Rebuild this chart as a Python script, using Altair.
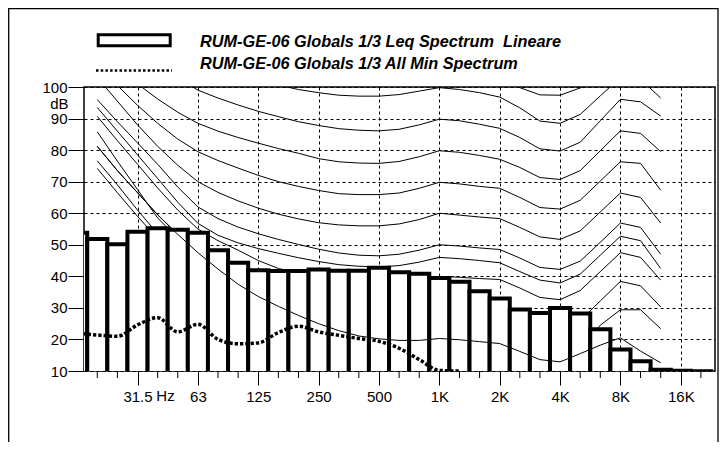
import altair as alt
import pandas as pd

# ---------------- data ----------------
# 1/3-octave band index: 1 kHz = 0 (16 Hz = -18 ... 20 kHz = 13)
band_idx = list(range(-18, 14))
band_label = ["16", "20", "25", "31.5", "40", "50", "63", "80", "100", "125", "160",
              "200", "250", "315", "400", "500", "630", "800", "1K", "1.25K", "1.6K",
              "2K", "2.5K", "3.15K", "4K", "5K", "6.3K", "8K", "10K", "12.5K", "16K", "20K"]
leq = [53.8, 51.8, 50.2, 54.1, 55.2, 54.8, 53.8, 48.3, 44.3, 41.9, 41.7,
       41.7, 42.2, 41.8, 41.8, 42.7, 41.3, 40.8, 39.5, 38.3, 35.3,
       33.0, 29.5, 28.4, 30.0, 28.2, 23.2, 16.8, 13.1, 10.4, 10.1, 9.9]

min_idx = list(range(-18, 2))
min_spec = [22.0, 21.4, 21.0, 24.6, 26.9, 22.4, 24.8, 20.0, 18.6, 18.9,
            22.2, 24.2, 22.4, 21.3, 20.3, 19.4, 17.2, 13.6, 10.2, 10.0]

# reference contours, 20 Hz (-17) ... 12.5 kHz (11)
contour_idx = list(range(-17, 12))
N = None
c110 = [N]*13 + [106.5, 106.8, 107.5, 108.6, 110, 109.2, 107.6, 104.5, 99.8, 97.5, 97.4, 99.7, 103, 108, N, N]
c100 = [N]*7 + [106, 103, 100.6, 99.2, 98.2, 97.4, 97.1, 97.1, 97.6, 98.7, 99.8, 99.2, 98.2, 96.8,
                93.4, 89.2, 88.5, 91.3, 97.2, 103, 102.5, 96.5]
c90 = [N]*4 + [103, 99, 96.5, 94.3, 92.3, 90.6, 89, 87.8, 86.8, 86.3, 86.1, 86.6, 88, 89.8, 89.3,
               88.2, 86.9, 84, 80.4, 79.7, 82.5, 89.3, 96.1, 95.3, 90.8]
c80 = [N]*2 + [101, 96.2, 92, 88.5, 86, 84, 82.2, 80.5, 79, 77.3, 76.3, 75.9, 75.8, 76.4, 77.9, 79.8,
               79.3, 78.3, 77.1, 74.5, 71.3, 70.7, 73.5, 79.8, 86.1, 85.3, 79.5]
c70 = [108, 100.5, 94.2, 88.5, 83.5, 79.5, 76.7, 74.3, 72, 70, 68.5, 67.2, 66.2, 65.9, 65.9, 66.4,
       67.9, 69.8, 69.3, 68.5, 67.9, 65, 61.8, 61.3, 64.1, 70.2, 76.3, 75.8, 67.3]
c60 = [103, 95.5, 88, 81.2, 75.2, 70, 66.6, 63.9, 61.6, 59.7, 58.2, 57, 56.3, 56, 56, 56.6, 58, 60,
       59.4, 58.8, 58.3, 55.5, 52.5, 51.7, 54.4, 60.4, 66.4, 65, 56.9]
c50 = [96, 89, 82.3, 75.5, 68.3, 62, 58.3, 55.6, 53.5, 51.7, 50.1, 48.6, 47.4, 46.7, 46.5, 47, 48.3,
       50, 49.6, 49, 48.5, 45.8, 42.8, 42.2, 44.8, 50.8, 56.9, 55.5, 47]
c46 = [93.5, 86, 78.5, 71, 63.5, 56.8, 53, 50.6, 48.8, 47.3, 45.9, 44.7, 43.7, 43.2, 43, 43.4, 44.5,
       46, 45.6, 45, 44.3, 41.5, 38.8, 37.9, 40.7, 46.7, 52.7, 51.3, 42.5]
c40 = [90.7, 83, 75.5, 68, 61, 55, 51.3, 48.3, 45, 42.5, 41, 39.8, 38.8, 38.2, 38, 38.3, 39, 40,
       39.7, 39.3, 39, 36.3, 33.3, 32.6, 35.5, 41.5, 47.5, 46, 38.8]
c30 = [85.8, 76.5, 67.5, 58.5, 52, 47, 43, 39.5, 36.5, 34, 32.3, 31, 30, 29.3, 29, 29.2, 29.6, 30,
       29.6, 29.3, 29, 26.3, 23.5, 22.8, 26, 32.2, 38.4, 37, 30.3]
c20 = [81.2, 73.5, 66.5, 59.5, 53.3, 47.5, 42.3, 37.5, 33.6, 30.5, 27.6, 25, 22.8, 21.1, 20.2, 19.7,
       19.7, 20.3, 19.9, 19.4, 19, 16.5, 14.2, 14, 17, 24.5, 29.4, 29.4, 23.4]
c10 = [76.6, 69, 61, 53.5, 48, 43] + [N]*23
c0 = [74.2, 66.5, 59, 52, 46, 41] + [N]*23
top_curve = [81.2, 73.5, 66.5, 59.5, 53.3, 47.5, 42.3, 37.5, 33.6, 30.5, 27.6, 25, 22.8, 21.1, 20.2,
             19.7, 19.7, 20.3, 19.9, 19.3, 18.7, 16.2, 13.6, 12.9, 15.5, 18.2, 20.5, 16.3, 12.6]

contours = {"110": c110, "100": c100, "90": c90, "80": c80, "70": c70, "60": c60, "50": c50,
            "46": c46, "40": c40, "30": c30, "20": c20, "10": c10, "0": c0}

major_idx = [-15, -12, -9, -6, -3, 0, 3, 6, 9, 12]
major_lab = ["31.5", "63", "125", "250", "500", "1K", "2K", "4K", "8K", "16K"]
minor_idx = [i for i in range(-17, 14) if i not in major_idx]
unit_label = "Hz"
y_ticks = list(range(10, 101, 10))

legend_1 = "RUM-GE-06 Globals 1/3 Leq Spectrum\u00a0\u00a0Lineare"
legend_2 = "RUM-GE-06 Globals 1/3 All Min Spectrum"

# ---------------- tables ----------------
df_bars = pd.DataFrame({"idx": band_idx, "band": band_label, "leq": leq})
df_min = pd.DataFrame({"idx": min_idx, "val": min_spec})
rows = []
for name, vals in contours.items():
    for i, v in zip(contour_idx, vals):
        if v is not None:
            rows.append({"curve": name, "idx": i, "val": v})
df_fam = pd.DataFrame(rows)
df_top = pd.DataFrame({"idx": contour_idx, "val": top_curve})
df_minor = pd.DataFrame({"idx": minor_idx})
one = pd.DataFrame({"k": [0]})

FONT = "Liberation Sans"
W, H = 631, 284
xs = alt.Scale(domain=[-17.66, 13.70], nice=False, zero=False)
ys = alt.Scale(domain=[10, 100], nice=False, zero=False)

label_expr = " : ".join(f"datum.value == {i} ? '{l}'" for i, l in zip(major_idx, major_lab)) + " : ''"

x_axis = alt.Axis(
    values=major_idx, labelExpr=label_expr, tickSize=14,
    grid=True, gridDash=[3, 3], gridColor="black", gridWidth=1,
    domain=False, tickColor="black", tickWidth=1,
    labelFont=FONT, labelFontSize=15, labelColor="black", labelPadding=4,
    labelOverlap=False, labelFlush=False, labelBound=False, title=None,
)
y_axis = alt.Axis(
    values=y_ticks, tickSize=16, labelPadding=1, grid=True, gridDash=[3, 3],
    gridColor="black", gridWidth=1, domain=False, tickColor="black", tickWidth=1,
    labelFont=FONT, labelFontSize=15, labelColor="black", labelOverlap=False, labelFlush=False,
    title="dB", titleAngle=0, titleX=-16, titleY=21, titleAlign="right",
    titleBaseline="alphabetic", titleFont=FONT, titleFontSize=15, titleFontWeight="normal",
    titleColor="black",
)


def X(field=None, **kw):
    if field is None:
        return alt.X(scale=xs, axis=x_axis, **kw)
    return alt.X(field, scale=xs, axis=x_axis, **kw)


def Y(field):
    return alt.Y(field, scale=ys, axis=y_axis)


frame = alt.Chart(one).mark_rect(fillOpacity=0, stroke="black", strokeWidth=1.3).encode(
    x=alt.value(-75.3), x2=alt.value(634), y=alt.value(-78.3), y2=alt.value(380))

fam = alt.Chart(df_fam).mark_line(clip=True, color="black", strokeWidth=1).encode(
    x=X("idx:Q"), y=Y("val:Q"), detail="curve:N", order="idx:Q")

bars = alt.Chart(df_bars).transform_calculate(
    x0="datum.idx - 0.5", x1="datum.idx + 0.5"
).mark_rect(clip=True, fill="white", stroke="black", strokeWidth=4).encode(
    x=X("x0:Q"), x2="x1:Q", y=Y("leq:Q"), y2=alt.datum(8.5))

top = alt.Chart(df_top).mark_line(clip=True, color="black", strokeWidth=1).encode(
    x=X("idx:Q"), y=Y("val:Q"))

dotted = alt.Chart(df_min).mark_line(
    clip=True, color="black", strokeWidth=3.5, strokeDash=[3.3, 2], interpolate="monotone"
).encode(x=X("idx:Q"), y=Y("val:Q"))

minor = alt.Chart(df_minor).mark_rule(color="black", strokeWidth=1).encode(
    x=X("idx:Q"), y=alt.value(H), y2=alt.value(H + 7))

hz = alt.Chart(one).mark_text(
    align="left", baseline="alphabetic", font=FONT, fontSize=15, color="black", dx=18.8,
    text=unit_label
).encode(x=X(datum=-15), y=alt.value(H + 30))

leg_box = alt.Chart(one).mark_rect(fill="white", stroke="black", strokeWidth=3).encode(
    x=alt.value(14.2), x2=alt.value(86.2), y=alt.value(-52.2), y2=alt.value(-41.2))
leg_dot = alt.Chart(one).mark_rule(color="black", strokeWidth=2.5, strokeDash=[2.5, 2.2]).encode(
    x=alt.value(12), x2=alt.value(88), y=alt.value(-16.5))
leg_t1 = alt.Chart(one).mark_text(
    align="left", baseline="alphabetic", font=FONT, fontSize=16.3, fontWeight="bold",
    fontStyle="italic", color="black", text=legend_1
).encode(x=alt.value(116), y=alt.value(-40.3))
leg_t2 = alt.Chart(one).mark_text(
    align="left", baseline="alphabetic", font=FONT, fontSize=16.3, fontWeight="bold",
    fontStyle="italic", color="black", text=legend_2
).encode(x=alt.value(116), y=alt.value(-17.7))

chart = alt.layer(frame, fam, bars, top, dotted, minor, hz, leg_box, leg_dot, leg_t1, leg_t2).properties(
    width=W, height=H,
    autosize=alt.AutoSizeParams(type="none"),
    padding={"left": 76, "top": 79, "right": 4, "bottom": 71},
    background="white",
).configure_view(stroke="black", strokeWidth=1.5)

chart.save("out.html", embed_options={"renderer": "svg", "actions": False})
